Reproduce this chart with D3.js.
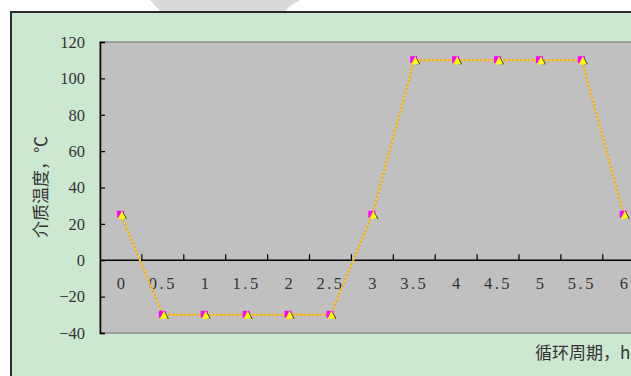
<!DOCTYPE html>
<html><head><meta charset="utf-8">
<script src="https://cdn.jsdelivr.net/npm/d3@7"></script>
<style>html,body{margin:0;padding:0;background:#fff;overflow:hidden}</style>
</head><body>
<svg id="c" width="631" height="376"></svg>
<script>
const categories = ["0","0.5","1","1.5","2","2.5","3","3.5","4","4.5","5","5.5","6"];
const seriesA = [25,-30,-30,-30,-30,-30,25,110,110,110,110,110,25];
const seriesB = [25,-30,-30,-30,-30,-30,25,110,110,110,110,110,25];
const yTicks = [-40,-20,0,20,40,60,80,100,120];
const yLabel = "介质温度，℃";
const xLabel = "循环周期，h";

const svg = d3.select("#c");
// faint watermark
svg.append("path").attr("d","M150,0 L300,0 L290,6 L285,11 L160,11 Z").attr("fill","#dcd9dc");
// outer chart area
svg.append("rect").attr("x",11).attr("y",12).attr("width",640).attr("height",380)
  .attr("fill","#cce8d0").attr("stroke","#2b2b2b").attr("stroke-width",2);

const pLeft=100, pTop=42, pBottom=333, step=41.9;
const x = d3.scaleBand().domain(categories).range([pLeft, pLeft+step*categories.length]).paddingInner(0).paddingOuter(0);
const y = d3.scaleLinear().domain([-40,120]).range([pBottom, pTop]);

// plot area
svg.append("rect").attr("x",pLeft).attr("y",pTop).attr("width",step*categories.length).attr("height",pBottom-pTop)
  .attr("fill","#c0c0c0").attr("stroke","#8a8a8a").attr("stroke-width",1.5);

const serif = "'Liberation Serif','DejaVu Serif',serif";
// y axis
const ya = svg.append("g").attr("transform",`translate(${pLeft},0)`)
  .call(d3.axisLeft(y).tickValues(yTicks).tickSize(-5).tickPadding(15).tickFormat(d=>d<0?"\u2212"+Math.abs(d):d));
ya.select(".domain").attr("stroke","#000").attr("stroke-width",1.5);
ya.selectAll(".tick line").attr("stroke","#000").attr("stroke-width",1.2);
ya.selectAll("text").attr("font-family",serif).attr("font-size",16.5).attr("fill","#333");

// x axis at y=0
const xa = svg.append("g").attr("transform",`translate(0,${y(0)})`)
  .call(d3.axisBottom(x).tickSize(0).tickPadding(17));
xa.select(".domain").remove();
xa.selectAll("text").attr("font-family",serif).attr("font-size",16.5).attr("fill","#333")
  .attr("letter-spacing",d=>d.includes(".")?"2.5px":"0");
svg.append("line").attr("x1",pLeft).attr("x2",660).attr("y1",y(0)).attr("y2",y(0)).attr("stroke","#000").attr("stroke-width",1.5);
// tick marks between categories
svg.append("g").selectAll("line").data(categories.slice(1)).join("line")
  .attr("x1",d=>x(d)).attr("x2",d=>x(d)).attr("y1",y(0)).attr("y2",y(0)-6)
  .attr("stroke","#000").attr("stroke-width",1.2);

const cx = d=>x(d)+x.bandwidth()/2;
const line = d3.line().x((d,i)=>cx(categories[i])).y(d=>y(d));
svg.append("path").datum(seriesA).attr("d",line).attr("fill","none").attr("stroke","#e0a060").attr("stroke-width",2);
svg.append("path").datum(seriesB).attr("d",line).attr("fill","none").attr("stroke","#ffe000").attr("stroke-width",1.5).attr("stroke-dasharray","2,2");

// markers
const mk = svg.append("g");
seriesA.forEach((v,i)=>{
  const px=cx(categories[i]), py=y(v);
  mk.append("rect").attr("x",px-4).attr("y",py-4).attr("width",7).attr("height",7).attr("fill","#ff00ff");
});
seriesB.forEach((v,i)=>{
  const px=cx(categories[i])+1, py=y(v);
  mk.append("path").attr("d",`M${px+1},${py-3} L${px+5},${py+4} L${px+1},${py+4} Z`).attr("fill","#222");
  mk.append("path").attr("d",`M${px},${py-4} L${px+4},${py+4} L${px-4},${py+4} Z`).attr("fill","#ffff00");
});

// axis titles
svg.append("text").attr("transform","translate(47,187) rotate(-90)").attr("text-anchor","middle")
  .attr("font-family","'Noto Sans CJK SC',sans-serif").attr("font-size",17).attr("fill","#333").text(yLabel);
svg.append("text").attr("x",535).attr("y",359)
  .attr("font-family","'Noto Sans CJK SC',sans-serif").attr("font-size",17).attr("fill","#333").text(xLabel);
</script>
</body></html>
